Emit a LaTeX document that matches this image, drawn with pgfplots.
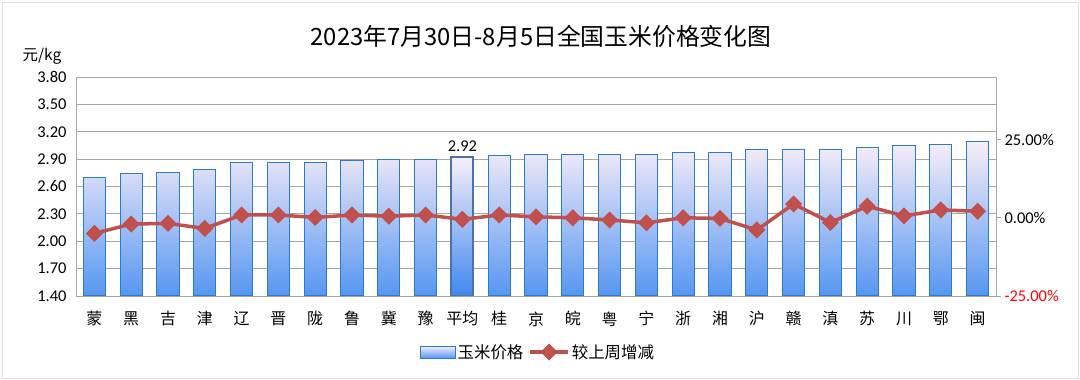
\documentclass[border=0pt]{standalone}
\usepackage{pgfplots}
\pgfplotsset{compat=1.18}
\usepackage{pgfplotstable}
\usepackage{fontspec}
\setmainfont{Carlito}
\newfontfamily\cjk{Noto Sans CJK SC}
\definecolor{linered}{HTML}{C0504D}
\definecolor{bartop}{HTML}{F8EEF8}
\definecolor{barmid}{HTML}{B4D2F2}
\definecolor{barbot}{HTML}{5696F2}
\definecolor{baredge}{HTML}{2B7BCB}
\definecolor{avgedge}{HTML}{4A74A8}
\definecolor{avgbot}{HTML}{3F88F0}
\definecolor{gridc}{HTML}{A6A6A6}
\pgfplotsset{/pgf/number format/assume math mode=true,
  lineleg/.style={legend image code/.code={\draw[mark repeat=2, mark phase=2, ##1] plot coordinates {(0bp,0bp) (19bp,0bp) (38bp,0bp)};}},
  barleg/.style={legend image code/.code={\draw[draw=baredge, line width=1bp, top color=bartop, middle color=barmid, bottom color=barbot] (0bp,-6bp) rectangle (35bp,6bp);}},
}

\pgfplotstableread{
x price change
0 2.70 -5.0
1 2.74 -2.0
2 2.75 -1.8
3 2.79 -3.4
4 2.86 0.9
5 2.86 0.9
6 2.86 0.1
7 2.89 0.9
8 2.90 0.5
9 2.90 0.9
10 2.92 -0.5
11 2.94 0.9
12 2.95 0.3
13 2.95 0.0
14 2.95 -0.7
15 2.95 -1.6
16 2.97 0.0
17 2.97 -0.2
18 3.00 -3.9
19 3.00 4.4
20 3.00 -1.5
21 3.03 3.7
22 3.05 0.6
23 3.06 2.5
24 3.09 2.1
}\datatable

\begin{document}
\begin{tikzpicture}
\path[use as bounding box] (0bp,0bp) rectangle (1080bp,380bp);
\draw[gray!25, line width=0.8bp] (2bp,2bp) rectangle (1078bp,378bp);
\begin{axis}[
  at={(76bp,84bp)}, anchor=south west,
  width=920bp, height=219bp, scale only axis,
  xmin=-0.5, xmax=24.5, ymin=1.4, ymax=3.8,
  ybar, bar width=0.6, bar shift=0pt,
  xtick={0,...,24},
  xticklabels={蒙,黑,吉,津,辽,晋,陇,鲁,冀,豫,平均,桂,京,皖,粤,宁,浙,湘,沪,赣,滇,苏,川,鄂,闽},
  xticklabel style={font=\cjk\fontsize{16}{19}\selectfont, yshift=-12bp},
  ytick={1.4,1.7,2.0,2.3,2.6,2.9,3.2,3.5,3.8},
  ytick pos=left, xtick pos=bottom,
  yticklabel style={font=\fontsize{16.5}{19}\selectfont, /pgf/number format/.cd, fixed, fixed zerofill, precision=2, /tikz/.cd, xshift=-6bp},
  major tick length=0pt,
  ymajorgrids, grid style={color=gridc, line width=0.9bp},
  axis line style={color=gridc, line width=0.9bp},
  title={\cjk\fontsize{23.9}{27}\selectfont 2023年7月30日-8月5日全国玉米价格变化图},
  title style={at={(rel axis cs:0.5055,1.16)}, anchor=center, inner sep=0pt},
  ylabel={\cjk\fontsize{15.5}{17}\selectfont 元/kg},
  every axis y label/.style={at={(rel axis cs:-0.037,1.096)}, anchor=center},
]
\addplot[draw=baredge, line width=1bp, top color=bartop, middle color=barmid, bottom color=barbot] table[x=x, y=price] {\datatable};
\addplot[draw=avgedge, line width=2bp, top color=bartop, middle color=barmid, bottom color=avgbot,
  nodes near coords={\pgfmathprintnumber[fixed,fixed zerofill,precision=2]{\pgfplotspointmeta}},
  every node near coord/.append style={font=\fontsize{16.5}{19}\selectfont, color=black, yshift=1bp}] coordinates {(10,2.92)};
\end{axis}
\begin{axis}[
  at={(76bp,84bp)}, anchor=south west,
  width=920bp, height=219bp, scale only axis,
  xmin=-0.5, xmax=24.5, ymin=-25, ymax=45,
  axis x line=none, axis y line*=right,
  ytick={-25,0,25},
  yticklabels={\textcolor{red}{-25.00\%}, 0.00\%, 25.00\%},
  yticklabel style={font=\fontsize{16.5}{19}\selectfont},
  tick align=outside, major tick length=5bp,
  major tick style={color=gridc, line width=0.9bp},
  axis line style={color=gridc, line width=0.9bp},
  legend style={draw=none, fill=none, at={(rel axis cs:0.502,-0.256)}, anchor=center,
    legend columns=-1, font=\cjk\fontsize{16.5}{19}\selectfont,
    /tikz/every even column/.append style={column sep=3bp}},
]
\addlegendimage{barleg}
\addlegendentry{玉米价格}
\addplot[color=linered, line width=3.5bp, mark=square*, mark size=4.3bp, mark options={rotate=45, solid}, lineleg]
  table[x=x, y=change] {\datatable};
\addlegendentry{较上周增减}
\end{axis}
\end{tikzpicture}
\end{document}
